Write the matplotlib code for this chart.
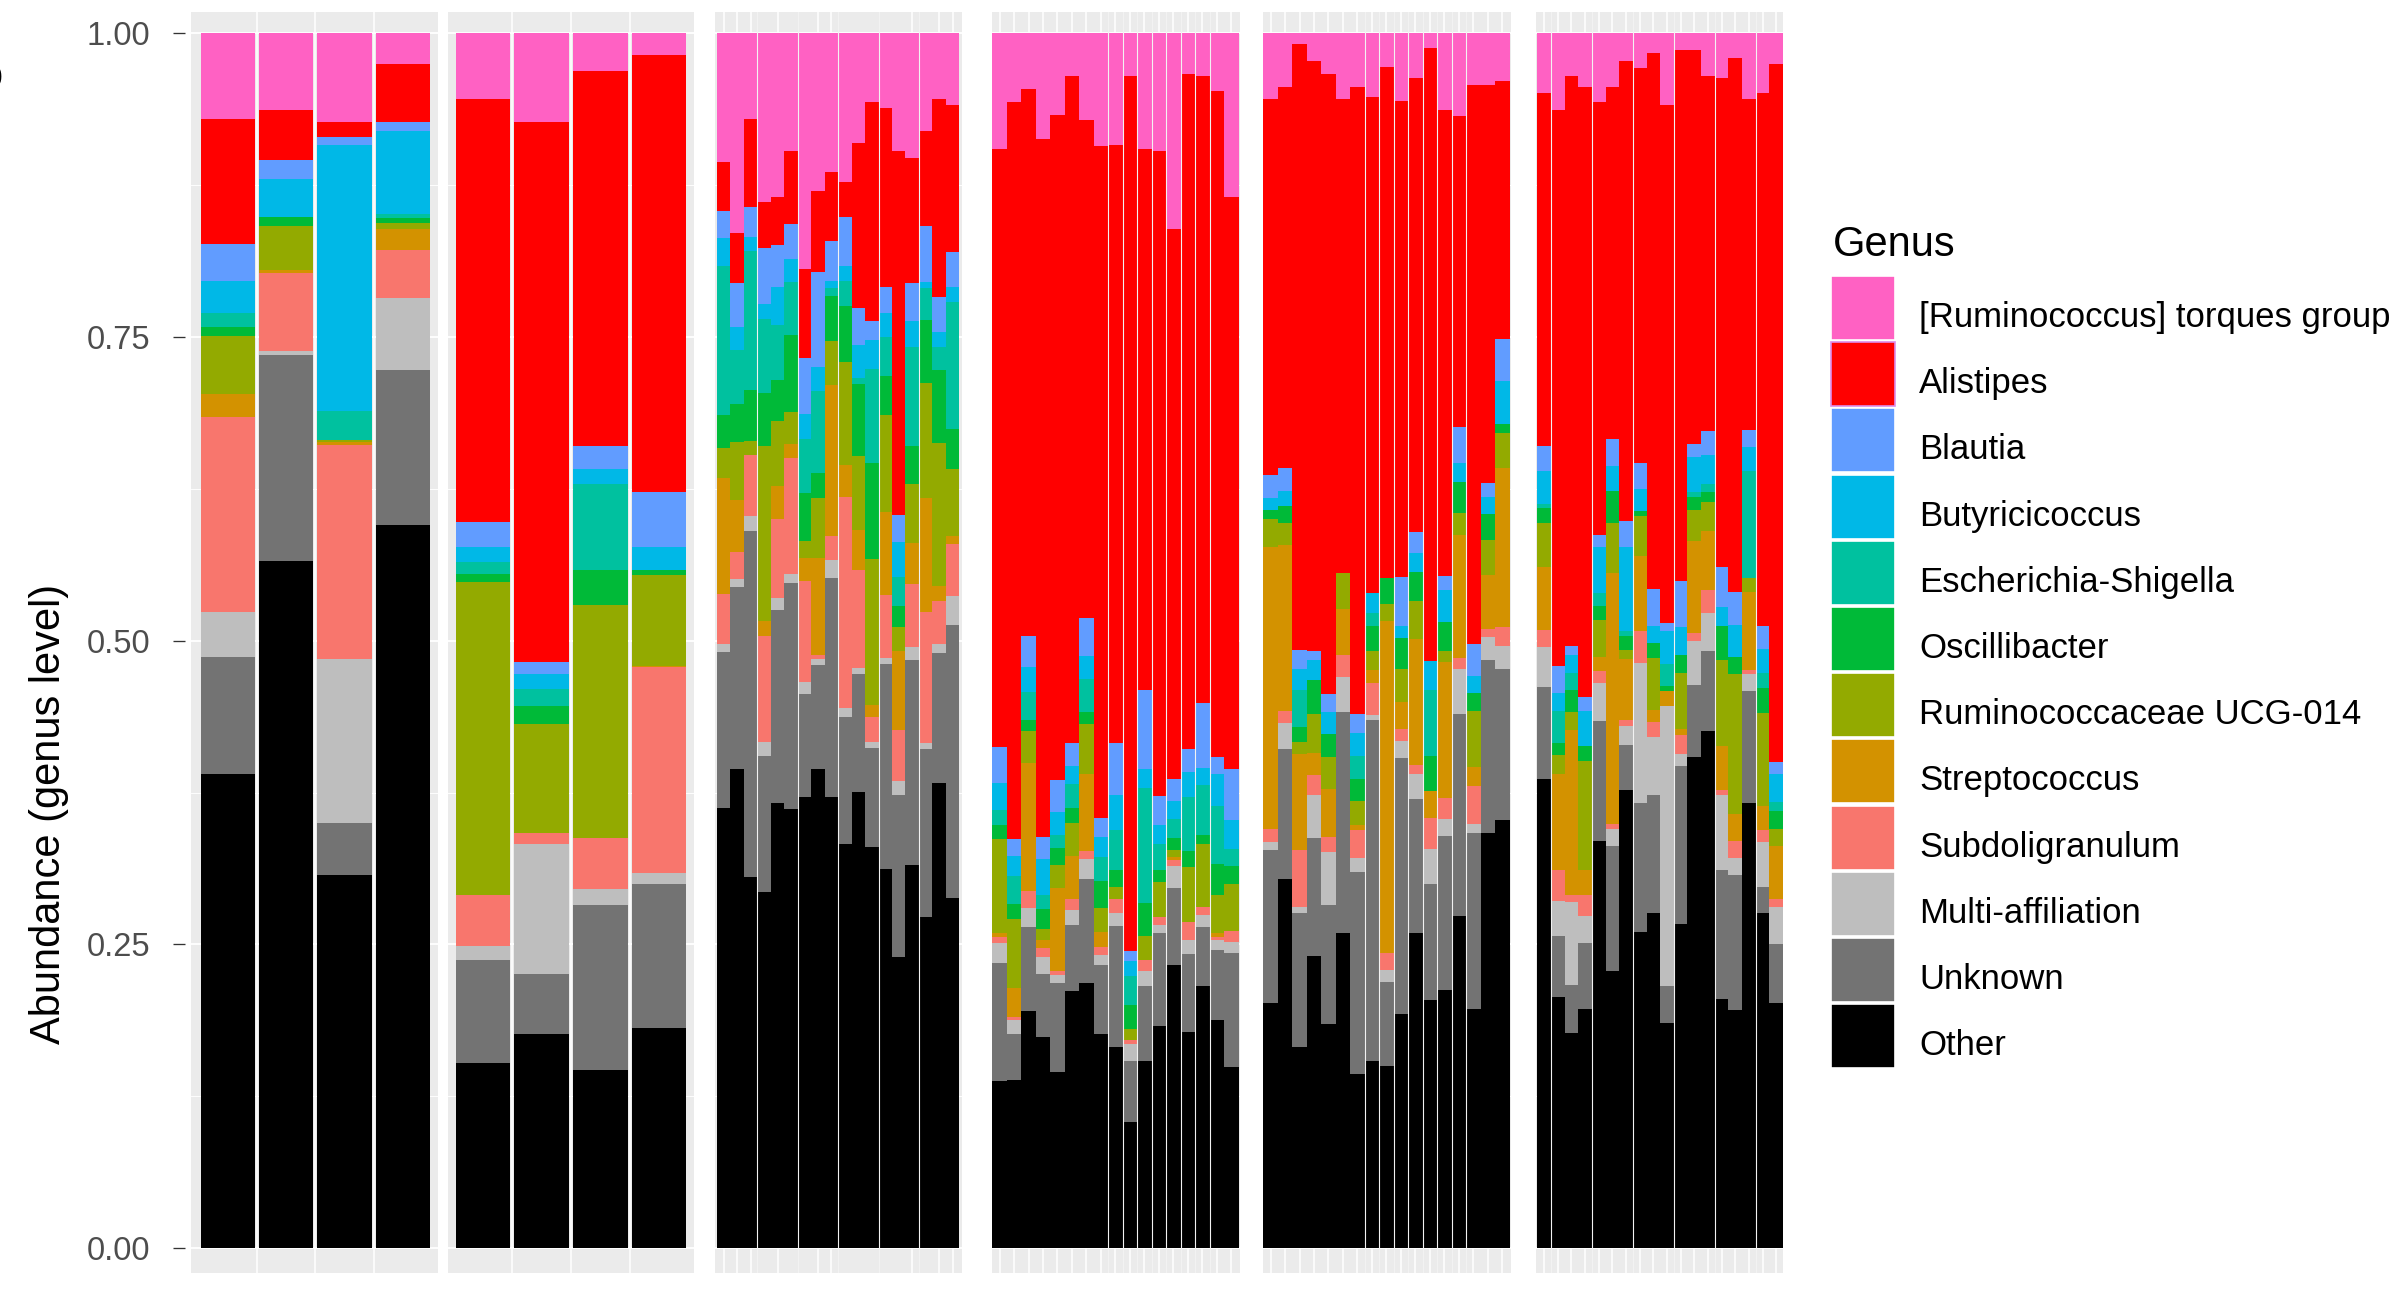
import numpy as np
import matplotlib
matplotlib.use("Agg")
import matplotlib.pyplot as plt
from matplotlib.patches import Rectangle

plt.rcParams['font.family'] = ['Liberation Sans', 'DejaVu Sans']

# relative abundance per genus, one value per sample (6 groups of samples)
panel_sizes = [4, 4, 18, 17, 17, 18]

torques = [0.070, 0.063, 0.073, 0.025,
           0.054, 0.073, 0.031, 0.018,
           0.106, 0.165, 0.070, 0.139, 0.135, 0.097, 0.194, 0.130, 0.114, 0.122, 0.090, 0.056, 0.061, 0.097, 0.103, 0.080, 0.054, 0.059,
           0.095, 0.056, 0.046, 0.087, 0.067, 0.035, 0.071, 0.093, 0.092, 0.035, 0.095, 0.097, 0.161, 0.033, 0.035, 0.047, 0.135,
           0.054, 0.044, 0.009, 0.023, 0.033, 0.054, 0.044, 0.052, 0.028, 0.056, 0.037, 0.012, 0.063, 0.068, 0.042, 0.042, 0.039,
           0.049, 0.063, 0.035, 0.044, 0.056, 0.044, 0.023, 0.028, 0.016, 0.059, 0.014, 0.014, 0.035, 0.037, 0.020, 0.054, 0.049, 0.025]
alistipes = [0.103, 0.041, 0.012, 0.048,
             0.348, 0.445, 0.309, 0.360,
             0.040, 0.041, 0.073, 0.038, 0.039, 0.060, 0.073, 0.067, 0.057, 0.029, 0.136, 0.181, 0.148, 0.300, 0.103, 0.079, 0.163, 0.121,
             0.493, 0.607, 0.450, 0.573, 0.548, 0.549, 0.411, 0.553, 0.493, 0.720, 0.446, 0.530, 0.452, 0.556, 0.516, 0.549, 0.471,
             0.310, 0.314, 0.499, 0.485, 0.511, 0.390, 0.516, 0.409, 0.421, 0.393, 0.373, 0.506, 0.383, 0.256, 0.461, 0.328, 0.212,
             0.291, 0.458, 0.469, 0.502, 0.357, 0.290, 0.378, 0.326, 0.441, 0.426, 0.437, 0.324, 0.293, 0.402, 0.440, 0.273, 0.440, 0.575]
blautia = [0.031, 0.016, 0.007, 0.007,
           0.021, 0.010, 0.019, 0.045,
           0.022, 0.036, 0.024, 0.046, 0.035, 0.029, 0.046, 0.078, 0.033, 0.041, 0.031, 0.015, 0.021, 0.022, 0.031, 0.046, 0.029, 0.029,
           0.030, 0.014, 0.026, 0.018, 0.027, 0.019, 0.031, 0.016, 0.043, 0.008, 0.065, 0.024, 0.018, 0.019, 0.054, 0.014, 0.042,
           0.019, 0.019, 0.016, 0.007, 0.015, 0.0, 0.015, 0.0, 0.0, 0.040, 0.017, 0.0, 0.012, 0.030, 0.026, 0.012, 0.035,
           0.020, 0.022, 0.007, 0.012, 0.010, 0.022, 0.021, 0.021, 0.031, 0.007, 0.038, 0.011, 0.019, 0.033, 0.027, 0.014, 0.019, 0.010]
butyricicoccus = [0.026, 0.031, 0.219, 0.069,
                  0.012, 0.012, 0.012, 0.019,
                  0.023, 0.019, 0.012, 0.012, 0.031, 0.019, 0.021, 0.020, 0.005, 0.012, 0.027, 0.024, 0.020, 0.029, 0.021, 0.005, 0.012, 0.012,
                  0.022, 0.017, 0.020, 0.029, 0.019, 0.015, 0.019, 0.016, 0.029, 0.012, 0.016, 0.016, 0.015, 0.021, 0.014, 0.026, 0.024,
                  0.010, 0.012, 0.017, 0.017, 0.018, 0.0, 0.019, 0.017, 0.0, 0.010, 0.016, 0.024, 0.026, 0.015, 0.014, 0.014, 0.035,
                  0.027, 0.015, 0.015, 0.029, 0.038, 0.021, 0.069, 0.018, 0.014, 0.027, 0.023, 0.029, 0.024, 0.015, 0.026, 0.020, 0.020, 0.023]
escherichia = [0.012, 0.0, 0.024, 0.003,
               0.010, 0.014, 0.071, 0.0,
               0.123, 0.045, 0.114, 0.061, 0.045, 0.044, 0.044, 0.068, 0.007, 0.021, 0.005, 0.078, 0.032, 0.024, 0.082, 0.026, 0.019, 0.105,
               0.012, 0.023, 0.023, 0.012, 0.010, 0.020, 0.027, 0.020, 0.033, 0.024, 0.095, 0.021, 0.016, 0.044, 0.041, 0.048, 0.014,
               0.0, 0.0, 0.031, 0.0, 0.0, 0.0, 0.019, 0.010, 0.0, 0.0, 0.0, 0.054, 0.0, 0.0, 0.0, 0.0, 0.0,
               0.004, 0.026, 0.014, 0.0, 0.010, 0.0, 0.004, 0.0, 0.0, 0.018, 0.0, 0.004, 0.007, 0.0, 0.0, 0.088, 0.012, 0.007]
oscillibacter = [0.007, 0.008, 0.0, 0.004,
                 0.007, 0.015, 0.029, 0.004,
                 0.027, 0.031, 0.042, 0.044, 0.034, 0.063, 0.040, 0.020, 0.037, 0.046, 0.059, 0.079, 0.032, 0.017, 0.031, 0.052, 0.060, 0.033,
                 0.012, 0.012, 0.009, 0.016, 0.014, 0.012, 0.010, 0.022, 0.014, 0.020, 0.027, 0.010, 0.010, 0.013, 0.007, 0.025, 0.015,
                 0.007, 0.014, 0.012, 0.028, 0.019, 0.0, 0.018, 0.021, 0.021, 0.026, 0.024, 0.029, 0.024, 0.026, 0.015, 0.021, 0.008,
                 0.012, 0.010, 0.018, 0.012, 0.012, 0.026, 0.012, 0.004, 0.012, 0.004, 0.015, 0.011, 0.008, 0.028, 0.014, 0.0, 0.021, 0.015]
ucg014 = [0.048, 0.036, 0.001, 0.005,
          0.257, 0.090, 0.192, 0.075,
          0.025, 0.048, 0.012, 0.144, 0.054, 0.027, 0.014, 0.050, 0.036, 0.085, 0.061, 0.120, 0.080, 0.020, 0.049, 0.095, 0.118, 0.055,
          0.077, 0.057, 0.027, 0.009, 0.019, 0.027, 0.041, 0.020, 0.010, 0.009, 0.020, 0.029, 0.005, 0.046, 0.052, 0.032, 0.039,
          0.023, 0.018, 0.010, 0.032, 0.027, 0.029, 0.020, 0.016, 0.014, 0.027, 0.031, 0.0, 0.009, 0.018, 0.046, 0.029, 0.028,
          0.036, 0.016, 0.015, 0.090, 0.030, 0.041, 0.007, 0.033, 0.043, 0.0, 0.046, 0.025, 0.024, 0.071, 0.116, 0.011, 0.076, 0.014]
streptococcus = [0.019, 0.002, 0.003, 0.017,
                 0.0, 0.0, 0.0, 0.001,
                 0.095, 0.043, 0.0, 0.012, 0.027, 0.011, 0.019, 0.080, 0.124, 0.026, 0.033, 0.010, 0.068, 0.065, 0.034, 0.094, 0.012, 0.006,
                 0.004, 0.024, 0.105, 0.007, 0.069, 0.036, 0.064, 0.012, 0.0, 0.0, 0.0, 0.0, 0.003, 0.0, 0.0, 0.003, 0.0,
                 0.233, 0.137, 0.079, 0.018, 0.039, 0.038, 0.004, 0.010, 0.274, 0.022, 0.104, 0.022, 0.112, 0.101, 0.016, 0.044, 0.131,
                 0.052, 0.079, 0.136, 0.020, 0.012, 0.207, 0.050, 0.062, 0.010, 0.013, 0.005, 0.076, 0.049, 0.036, 0.022, 0.065, 0.020, 0.044]
subdoligranulum = [0.160, 0.065, 0.176, 0.040,
                   0.042, 0.009, 0.042, 0.170,
                   0.041, 0.022, 0.050, 0.087, 0.065, 0.096, 0.083, 0.003, 0.020, 0.174, 0.081, 0.020, 0.052, 0.042, 0.052, 0.108, 0.036, 0.043,
                   0.005, 0.002, 0.014, 0.007, 0.003, 0.009, 0.006, 0.007, 0.012, 0.003, 0.009, 0.006, 0.005, 0.014, 0.007, 0.002, 0.009,
                   0.010, 0.010, 0.047, 0.016, 0.013, 0.018, 0.023, 0.027, 0.014, 0.010, 0.007, 0.026, 0.017, 0.009, 0.031, 0.007, 0.016,
                   0.014, 0.025, 0.005, 0.018, 0.010, 0.004, 0.005, 0.026, 0.012, 0.0, 0.016, 0.007, 0.019, 0.004, 0.014, 0.003, 0.010, 0.006]
multi_affiliation = [0.037, 0.003, 0.135, 0.059,
                     0.012, 0.107, 0.013, 0.009,
                     0.007, 0.007, 0.012, 0.012, 0.010, 0.007, 0.010, 0.005, 0.015, 0.007, 0.005, 0.005, 0.005, 0.012, 0.010, 0.005, 0.007, 0.024,
                     0.016, 0.012, 0.016, 0.014, 0.007, 0.012, 0.017, 0.008, 0.010, 0.014, 0.012, 0.007, 0.018, 0.012, 0.010, 0.009, 0.009,
                     0.007, 0.021, 0.005, 0.036, 0.043, 0.029, 0.012, 0.004, 0.010, 0.014, 0.021, 0.029, 0.014, 0.037, 0.007, 0.019, 0.019,
                     0.033, 0.029, 0.069, 0.022, 0.031, 0.014, 0.016, 0.116, 0.048, 0.230, 0.010, 0.036, 0.031, 0.062, 0.014, 0.014, 0.037, 0.031]
unknown = [0.097, 0.170, 0.043, 0.128,
           0.085, 0.050, 0.136, 0.119,
           0.128, 0.150, 0.285, 0.112, 0.159, 0.187, 0.085, 0.086, 0.180, 0.105, 0.097, 0.082, 0.169, 0.133, 0.169, 0.138, 0.107, 0.225,
           0.097, 0.038, 0.069, 0.052, 0.073, 0.054, 0.086, 0.057, 0.100, 0.050, 0.062, 0.076, 0.063, 0.064, 0.048, 0.057, 0.094,
           0.126, 0.107, 0.110, 0.097, 0.098, 0.182, 0.166, 0.281, 0.069, 0.212, 0.110, 0.095, 0.127, 0.167, 0.145, 0.142, 0.124,
           0.076, 0.050, 0.039, 0.054, 0.099, 0.103, 0.037, 0.106, 0.097, 0.031, 0.130, 0.059, 0.066, 0.106, 0.111, 0.092, 0.022, 0.048]
other = [0.390, 0.566, 0.307, 0.595,
         0.152, 0.176, 0.147, 0.181,
         0.362, 0.395, 0.305, 0.293, 0.366, 0.362, 0.371, 0.395, 0.371, 0.333, 0.376, 0.330, 0.312, 0.240, 0.316, 0.273, 0.383, 0.288,
         0.138, 0.138, 0.195, 0.173, 0.145, 0.212, 0.218, 0.176, 0.166, 0.104, 0.154, 0.183, 0.233, 0.178, 0.216, 0.188, 0.149,
         0.202, 0.304, 0.166, 0.240, 0.185, 0.259, 0.143, 0.154, 0.150, 0.193, 0.259, 0.205, 0.212, 0.273, 0.197, 0.342, 0.352,
         0.386, 0.207, 0.177, 0.197, 0.335, 0.228, 0.376, 0.260, 0.276, 0.185, 0.267, 0.405, 0.426, 0.205, 0.196, 0.367, 0.276, 0.202]

# legend order (top of the stack first)
genus_names = ["[Ruminococcus] torques group", "Alistipes", "Blautia", "Butyricicoccus",
               "Escherichia-Shigella", "Oscillibacter", "Ruminococcaceae UCG-014",
               "Streptococcus", "Subdoligranulum", "Multi-affiliation", "Unknown", "Other"]
genus_values = [torques, alistipes, blautia, butyricicoccus, escherichia, oscillibacter,
                ucg014, streptococcus, subdoligranulum, multi_affiliation, unknown, other]
genus_colors = ["#FF61C3", "#FF0000", "#619CFF", "#00B8E7", "#00C19F", "#00BA38",
                "#93AA00", "#D39200", "#F8766D", "#BEBEBE", "#737373", "#000000"]

abund = np.array(genus_values, dtype=float)
assert abund.shape == (12, sum(panel_sizes))
abund = abund / abund.sum(axis=0)   # each sample sums to 1

W, H = 2406, 1297
fig = plt.figure(figsize=(W / 100, H / 100), dpi=100)

# panel placement in pixels and per-panel x settings
panel_px = [(191, 438), (448, 694), (715, 962), (992, 1240), (1263, 1511), (1536, 1783)]
y_top, y_bot = 12, 1273
xlims = [(-0.63, 3.6), (-0.6, 3.6), (-0.65, 17.7), (-0.52, 16.6), (-0.52, 16.6), (-0.6, 17.5)]
bar_widths = [0.93, 0.93, 1.0, 1.0, 1.0, 1.0]
vgrid = [[0.5, 1.5, 2.5], [0.5, 1.5, 2.5], [0, 1, 2, 4, 7, 8, 14, 16, 17],
         list(range(17)), list(range(17)), list(range(18))]
group_breaks = [[], [], [2.5, 5.5, 8.5, 11.5, 14.5],
                [7.5, 8.5, 9.5, 10.5, 11.5, 12.5, 13.5, 14.5],
                [6.5, 7.5, 8.5, 9.5, 10.5, 11.5, 12.5, 13.5],
                [0.5, 3.5, 6.5, 9.5, 12.5, 15.5]]

start = 0
for p, n in enumerate(panel_sizes):
    x0, x1 = panel_px[p]
    ax = fig.add_axes([x0 / W, 1 - y_bot / H, (x1 - x0) / W, (y_bot - y_top) / H])
    ax.set_facecolor("#EBEBEB")
    ax.set_xlim(*xlims[p])
    ax.set_ylim(-0.0206, 1.0177)
    for sp in ax.spines.values():
        sp.set_visible(False)

    for yv in [0, 0.25, 0.5, 0.75, 1.0]:
        ax.axhline(yv, color="white", lw=1.3, zorder=0.5)
    for yv in [0.125, 0.375, 0.625, 0.875]:
        ax.axhline(yv, color="white", lw=0.65, zorder=0.5)
    for xv in vgrid[p]:
        ax.axvline(xv, color="white", lw=1.1, zorder=0.5)

    x = np.arange(n)
    bottom = np.zeros(n)
    for g in range(len(genus_names) - 1, -1, -1):
        vals = abund[g, start:start + n]
        ax.bar(x, vals, bar_widths[p], bottom=bottom, color=genus_colors[g],
               linewidth=0, zorder=2)
        bottom += vals
    for xb in group_breaks[p]:
        ax.axvline(xb, color="#F2F2F2", lw=0.8, zorder=3)

    ax.set_xticks([])
    if p == 0:
        ax.set_yticks([0, 0.25, 0.5, 0.75, 1.0])
        ax.set_yticklabels(["0.00", "0.25", "0.50", "0.75", "1.00"])
        ax.spines["left"].set_position(("outward", 4.3))
        ax.tick_params(axis="y", length=8.6, width=0.95, color="#333333", pad=16.5,
                       labelsize=23.5, labelcolor="#4D4D4D")
    else:
        ax.set_yticks([])
    start += n

fig.text(49 / W, 1 - 814 / H, "Abundance (genus level)", rotation=90,
         ha="center", va="center", fontsize=30, color="black")
fig.text(2.5 / W, 1 - 77 / H, "o", ha="right", va="center", fontsize=30, color="black")

# legend
fig.text(1833 / W, 1 - 256 / H, "Genus", ha="left", va="baseline", fontsize=30)
key_top, pitch, key_h = 276, 66.2, 64
for i, (name, col) in enumerate(zip(genus_names, genus_colors)):
    ky = key_top + i * pitch
    edge = "#DD8CEB" if name == "Alistipes" else "white"
    fig.patches.append(Rectangle((1831 / W, 1 - (ky + key_h) / H), 64 / W, key_h / H,
                                 transform=fig.transFigure, facecolor=col,
                                 edgecolor=edge, lw=1.2))
    fig.text(1919 / W, 1 - (ky + key_h / 2 + 19) / H, name, ha="left", va="baseline",
             fontsize=25, color="black")

fig.savefig("out.png", dpi=100)
